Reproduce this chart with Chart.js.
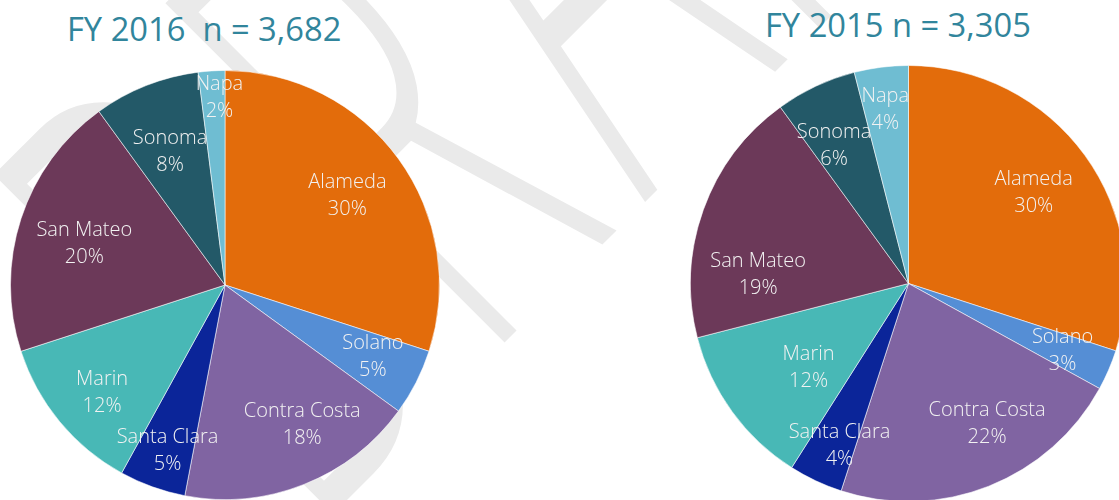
<!DOCTYPE html>
<html>
<head>
<meta charset="utf-8">
<script src="https://cdn.jsdelivr.net/npm/chart.js@4"></script>
<style>
  html, body { margin: 0; padding: 0; background: #ffffff; }
  body { width: 1119px; height: 500px; position: relative; overflow: hidden; }
  #wm { position: absolute; left: 0; top: 0; z-index: 0; }
  .title { position: absolute; z-index: 2; font-family: "Open Sans", "DejaVu Sans", sans-serif; font-size: 32.7px; color: #31859C; white-space: pre; line-height: 1; }
  .pie { position: absolute; z-index: 1; }
</style>
</head>
<body>
<svg id="wm" width="1119" height="500" xmlns="http://www.w3.org/2000/svg">
  <g transform="translate(515,332) rotate(-45) scale(0.5,1)">
    <text id="wmText" font-family="Open Sans" font-weight="300" font-size="672" fill="#EAEAEA" y="0">DRAFT</text>
  </g>
</svg>
<div class="title" id="t1"></div>
<div class="title" id="t2"></div>
<div class="pie" id="w1"><canvas id="c1"></canvas></div>
<div class="pie" id="w2"><canvas id="c2"></canvas></div>
<script>
// ---- data ----
const categories = ["Alameda", "Solano", "Contra Costa", "Santa Clara", "Marin", "San Mateo", "Sonoma", "Napa"];
const fy2016 = [30, 5, 18, 5, 12, 20, 8, 2];
const fy2015 = [30, 3, 22, 4, 12, 19, 6, 4];
const title2016 = "FY 2016  n = 3,682";
const title2015 = "FY 2015 n = 3,305";
const watermarkText = "DRAFT";

// ---- styling ----
const sliceColors = ["#E36C0B", "#558ED5", "#8064A2", "#0B2599", "#48B8B6", "#6C3959", "#235968", "#6FBDD2"];
// label placement: [radius factor, angle offset (deg) from slice middle]
const labelPlace2016 = [[0.705, 0], [0.767, -1], [0.745, -7.3], [0.819, -0.7], [0.763, -1.7], [0.683, -1.8], [0.672, -0.8], [0.875, 1.9]];
const labelPlace2015 = [[0.71, 0], [0.771, 0.2], [0.739, -7.6], [0.807, -2.1], [0.60, -4.2], [0.691, -16.3], [0.72, -3.1], [0.806, -0.4]];

// watermark text and glyph positions along its baseline
const wm = document.getElementById('wmText');
wm.textContent = watermarkText;
wm.setAttribute('x', '-582 -97 368 793 1154');

const labelPlugin = {
  id: 'sliceLabels',
  afterDatasetsDraw(chart, args, opts) {
    const ctx = chart.ctx;
    const meta = chart.getDatasetMeta(0);
    const data = chart.data.datasets[0].data;
    ctx.save();
    ctx.font = '300 20px "Open Sans", "DejaVu Sans", sans-serif';
    ctx.fillStyle = '#F2F2F2';
    ctx.textAlign = 'center';
    ctx.textBaseline = 'middle';
    meta.data.forEach((arc, i) => {
      const p = arc.getProps(['x', 'y', 'startAngle', 'endAngle', 'outerRadius'], true);
      const [f, off] = opts.place[i];
      const mid = (p.startAngle + p.endAngle) / 2 + off * Math.PI / 180;
      const px = p.x + Math.cos(mid) * p.outerRadius * f;
      const py = p.y + Math.sin(mid) * p.outerRadius * f;
      ctx.fillText(chart.data.labels[i], px, py - 13.5);
      ctx.fillText(data[i] + '%', px, py + 13.5);
    });
    ctx.restore();
  }
};

function makePie(wrapId, canvasId, cx, cy, r, values, place) {
  const bw = 1;
  const size = Math.round(2 * r + bw);
  const wrap = document.getElementById(wrapId);
  wrap.style.left = (cx - size / 2) + 'px';
  wrap.style.top = (cy - size / 2) + 'px';
  wrap.style.width = size + 'px';
  wrap.style.height = size + 'px';
  const cv = document.getElementById(canvasId);
  cv.width = size; cv.height = size;
  return new Chart(cv, {
    type: 'pie',
    data: {
      labels: categories,
      datasets: [{
        data: values,
        backgroundColor: sliceColors,
        borderColor: 'rgba(255,255,255,0.55)',
        borderWidth: bw
      }]
    },
    options: {
      responsive: false,
      animation: false,
      events: [],
      layout: { padding: 0 },
      plugins: {
        legend: { display: false },
        tooltip: { enabled: false },
        title: { display: false },
        sliceLabels: { place: place }
      }
    },
    plugins: [labelPlugin]
  });
}

function placeTitle(id, text, left, top) {
  const el = document.getElementById(id);
  el.textContent = text;
  el.style.left = left + 'px';
  el.style.top = top + 'px';
}

placeTitle('t1', title2016, 67, 12.7);
placeTitle('t2', title2015, 765, 9.3);

makePie('w1', 'c1', 224.5, 285, 214.5, fy2016, labelPlace2016);
makePie('w2', 'c2', 908.3, 283.3, 218, fy2015, labelPlace2015);
</script>
</body>
</html>
